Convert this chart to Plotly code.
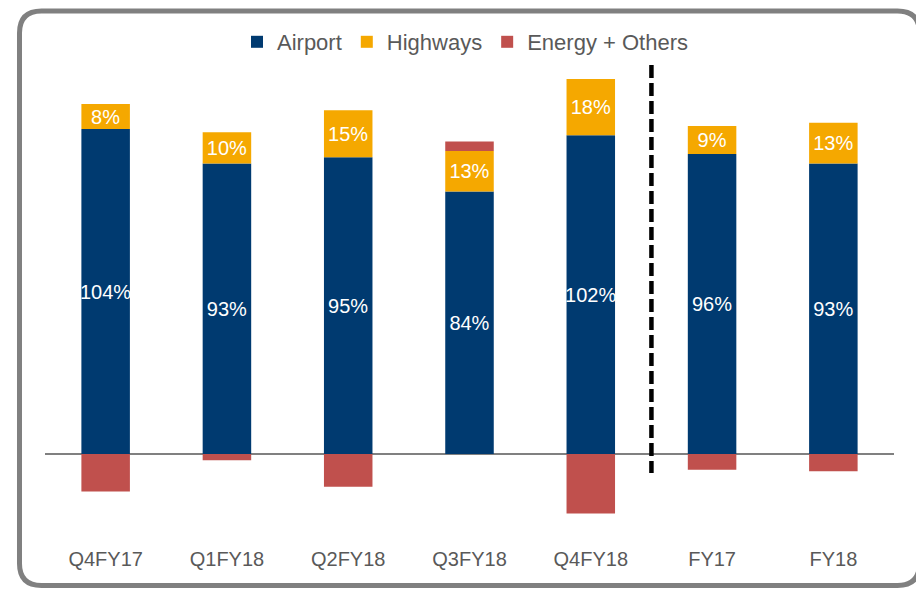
import plotly.graph_objects as go

# ---- data ----
categories = ["Q4FY17", "Q1FY18", "Q2FY18", "Q3FY18", "Q4FY18", "FY17", "FY18"]
airport = [104, 93, 95, 84, 102, 96, 93]
highways = [8, 10, 15, 13, 18, 9, 13]
energy_others = [-12, -2, -10.5, 3, -19, -5, -5.5]

series_names = ["Airport", "Highways", "Energy + Others"]
colors = ["#003A70", "#F5A800", "#C0504D"]

# ---- layout constants (pixels, in screen coordinates) ----
OFF = 8  # default page body margin
W, H = 924 - OFF, 589 - OFF
PLOT_L, PLOT_R = 45 - OFF, 894 - OFF
PLOT_T, PLOT_B = 60 - OFF, 545 - OFF
ZERO_PX = 454 - OFF
PX_PER_UNIT = 3.125
y_top = (ZERO_PX - PLOT_T) / PX_PER_UNIT
y_bot = (ZERO_PX - PLOT_B) / PX_PER_UNIT

FONT = "Liberation Sans, Arial, sans-serif"
TEXT_GRAY = "#595959"

fig = go.Figure()
fig.add_trace(go.Bar(
    x=categories, y=airport, name=series_names[0],
    marker=dict(color=colors[0], line=dict(width=0)),
    text=[f"{v}%" for v in airport], textposition="inside",
    insidetextanchor="middle", textangle=0,
    textfont=dict(color="white", size=20, family=FONT),
))
fig.add_trace(go.Bar(
    x=categories, y=highways, name=series_names[1],
    marker=dict(color=colors[1], line=dict(width=0)),
    text=[f"{v}%" for v in highways], textposition="inside",
    insidetextanchor="middle", textangle=0,
    textfont=dict(color="white", size=20, family=FONT),
))
fig.add_trace(go.Bar(
    x=categories, y=energy_others, name=series_names[2],
    marker=dict(color=colors[2], line=dict(width=0)),
    textposition="none",
))


def px_to_paper(px, py):
    px -= OFF
    py -= OFF
    return (px - PLOT_L) / (PLOT_R - PLOT_L), (PLOT_B - py) / (PLOT_B - PLOT_T)


def P(x, y):
    a, b = px_to_paper(x, y)
    return f"{a:.5f},{b:.5f}"


# rounded border
bx0, bx1, by0, by1, r = 19.5, 919.5, 11, 585.5, 22
path = (
    f"M {P(bx0 + r, by0)} L {P(bx1 - r, by0)} Q {P(bx1, by0)} {P(bx1, by0 + r)} "
    f"L {P(bx1, by1 - r)} Q {P(bx1, by1)} {P(bx1 - r, by1)} "
    f"L {P(bx0 + r, by1)} Q {P(bx0, by1)} {P(bx0, by1 - r)} "
    f"L {P(bx0, by0 + r)} Q {P(bx0, by0)} {P(bx0 + r, by0)} Z"
)
fig.add_shape(type="path", path=path, xref="paper", yref="paper",
              line=dict(color="#808080", width=5), layer="above")

# dashed separator between quarters and full years
sep_top = (ZERO_PX - (65 - OFF)) / PX_PER_UNIT
sep_bot = (ZERO_PX - (473 - OFF)) / PX_PER_UNIT
fig.add_shape(type="line", xref="x", yref="y", x0=4.5, x1=4.5,
              y0=sep_top, y1=sep_bot,
              line=dict(color="black", width=4.5, dash="13px,5px"))

leg_x, leg_y = px_to_paper(465, 42)

fig.update_layout(
    width=W, height=H,
    barmode="relative", bargap=0.6,
    margin=dict(l=PLOT_L, r=W - PLOT_R, t=PLOT_T, b=H - PLOT_B),
    paper_bgcolor="white", plot_bgcolor="white",
    font=dict(family=FONT, color=TEXT_GRAY),
    uniformtext=dict(minsize=20, mode="show"),
    showlegend=True,
    legend=dict(orientation="h", x=leg_x, y=leg_y, xanchor="center",
                yanchor="middle", traceorder="normal",
                font=dict(size=22, color=TEXT_GRAY, family=FONT),
                bgcolor="rgba(0,0,0,0)"),
    xaxis=dict(range=[-0.5, 6.5], showgrid=False, showline=False,
               ticks="", tickfont=dict(size=20, color=TEXT_GRAY, family=FONT),
               fixedrange=True),
    yaxis=dict(range=[y_bot, y_top], showgrid=False, showticklabels=False,
               zeroline=True, zerolinecolor="#808080", zerolinewidth=2,
               showline=False, fixedrange=True),
    hovermode=False,
)

fig.write_html("out.html")
